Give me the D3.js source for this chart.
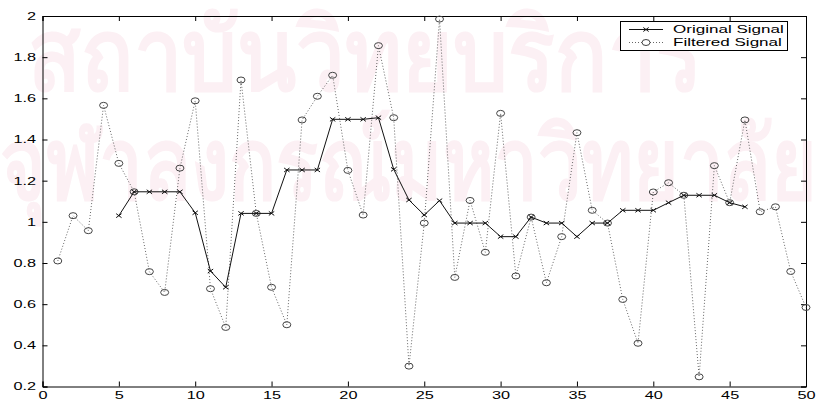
<!DOCTYPE html>
<html>
<head>
<meta charset="utf-8">
<script src="https://cdn.jsdelivr.net/npm/d3@7"></script>
<style>
  body { margin: 0; background: #fff; }
  svg { display: block; }
  text { font-family: "Liberation Sans", Arial, sans-serif; }
</style>
</head>
<body>
<svg id="chart" width="817" height="402"></svg>
<script>
// Sample index 1..50 for the filtered signal
const filteredX = d3.range(1, 51);
const filteredY = [
  0.81, 1.03, 0.957, 1.566, 1.284, 1.146, 0.758, 0.657, 1.261, 1.588,
  0.675, 0.487, 1.689, 1.041, 0.682, 0.50, 1.495, 1.61, 1.712, 1.25,
  1.033, 1.856, 1.506, 0.299, 0.994, 1.985, 0.73, 1.104, 0.852, 1.527,
  0.737, 1.023, 0.704, 0.928, 1.433, 1.056, 0.994, 0.623, 0.41, 1.145,
  1.19, 1.129, 0.247, 1.273, 1.093, 1.495, 1.049, 1.073, 0.759, 0.584
];
// Original signal covers indices 5..46
const originalX = d3.range(5, 47);
const originalY = [
  1.03, 1.146, 1.146, 1.146, 1.146, 1.044, 0.761, 0.682, 1.041, 1.041,
  1.041, 1.252, 1.252, 1.252, 1.498, 1.498, 1.498, 1.506, 1.255, 1.106,
  1.033, 1.103, 0.994, 0.994, 0.994, 0.928, 0.928, 1.023, 0.994, 0.994,
  0.928, 0.994, 0.994, 1.056, 1.056, 1.056, 1.093, 1.129, 1.129, 1.129,
  1.093, 1.073
];
const xTicks = [0, 5, 10, 15, 20, 25, 30, 35, 40, 45, 50];
const yTicks = [0.2, 0.4, 0.6, 0.8, 1, 1.2, 1.4, 1.6, 1.8, 2];
const seriesNames = ["Original Signal", "Filtered Signal"];
const watermarkLines = ["สถาบันวิทยบริการ", "จุฬาลงกรณ์มหาวิทยาลัย"];

const svg = d3.select("#chart");
const W = 817, H = 402;
const m = { left: 42.5, top: 16, right: 11, bottom: 15.5 };
const iw = W - m.left - m.right, ih = H - m.top - m.bottom;
const SX = 1.55;          // horizontal stretch applied to all labels
const FS = 10.5;          // label font size

// faint watermark behind everything
const wm = svg.append("g").attr("fill", "#fcf0f4").attr("font-weight", 700)
  .style("font-family", "'Noto Sans Thai', 'Noto Sans', sans-serif");
wm.append("text").attr("x", 28).attr("y", 90)
  .attr("font-size", 100).attr("textLength", 675).attr("lengthAdjust", "spacingAndGlyphs")
  .text(watermarkLines[0]);
wm.append("text").attr("x", 0).attr("y", 199)
  .attr("font-size", 100).attr("textLength", 817).attr("lengthAdjust", "spacingAndGlyphs")
  .text(watermarkLines[1]);

const x = d3.scaleLinear().domain([0, 50]).range([m.left, m.left + iw]);
const y = d3.scaleLinear().domain([0.2, 2]).range([m.top + ih, m.top]);

const g = svg.append("g");

// axes box with inward ticks on all four sides
const tickLen = 5;
const fmt = d => d3.format("")(+d.toFixed(1));
const axBottom = g.append("g").attr("transform", `translate(0,${m.top + ih})`)
  .call(d3.axisBottom(x).tickValues(xTicks).tickSize(-tickLen).tickFormat(d3.format("d")));
const axTop = g.append("g").attr("transform", `translate(0,${m.top})`)
  .call(d3.axisTop(x).tickValues(xTicks).tickSize(-tickLen).tickFormat(""));
const axLeft = g.append("g").attr("transform", `translate(${m.left},0)`)
  .call(d3.axisLeft(y).tickValues(yTicks).tickSize(-tickLen).tickFormat(fmt));
const axRight = g.append("g").attr("transform", `translate(${m.left + iw},0)`)
  .call(d3.axisRight(y).tickValues(yTicks).tickSize(-tickLen).tickFormat(""));
[axBottom, axTop, axLeft, axRight].forEach(a => {
  a.selectAll("path").attr("stroke", "#000").attr("stroke-width", 1);
  a.selectAll("line").attr("stroke", "#000");
  a.selectAll("text").attr("font-size", FS).attr("fill", "#000")
    .style("font-family", "'Liberation Sans', Arial, sans-serif");
});
axBottom.selectAll("text").attr("y", 12.5).attr("dy", 0)
  .attr("transform", `scale(${SX},1)`);
axLeft.selectAll("text").attr("x", -6.5 / SX)
  .attr("transform", `scale(${SX},1)`);

// filtered signal: dotted line with circle markers
const filtered = filteredX.map((d, i) => [d, filteredY[i]]);
const original = originalX.map((d, i) => [d, originalY[i]]);
const line = d3.line().x(d => x(d[0])).y(d => y(d[1]));

g.append("path").datum(filtered).attr("d", line)
  .attr("fill", "none").attr("stroke", "#666").attr("stroke-width", 1)
  .attr("stroke-dasharray", "1,2");
g.append("g").selectAll("ellipse").data(filtered).join("ellipse")
  .attr("cx", d => x(d[0])).attr("cy", d => y(d[1])).attr("rx", 4).attr("ry", 3)
  .attr("fill", "none").attr("stroke", "#444").attr("stroke-width", 1);

// original signal: solid line with x markers
g.append("path").datum(original).attr("d", line)
  .attr("fill", "none").attr("stroke", "#111").attr("stroke-width", 1);
const cross = (sel, sx, sy) => sel.attr("d", d => {
  const cx = x(d[0]), cy = y(d[1]);
  return `M${cx - sx},${cy - sy}L${cx + sx},${cy + sy}M${cx - sx},${cy + sy}L${cx + sx},${cy - sy}`;
});
g.append("g").selectAll("path").data(original).join("path")
  .call(cross, 2.7, 2).attr("stroke", "#111").attr("stroke-width", 1).attr("fill", "none");

// legend
const lg = svg.append("g").attr("transform", "translate(620,21)");
lg.append("rect").attr("x", 0.5).attr("y", 0.5).attr("width", 167).attr("height", 29)
  .attr("fill", "#fff").attr("stroke", "#000");
lg.append("line").attr("x1", 9).attr("x2", 43).attr("y1", 8.5).attr("y2", 8.5)
  .attr("stroke", "#111");
lg.append("path").attr("d", "M23.3,6.5L28.7,10.5M23.3,10.5L28.7,6.5")
  .attr("stroke", "#111").attr("fill", "none");
lg.append("line").attr("x1", 9).attr("x2", 43).attr("y1", 21.5).attr("y2", 21.5)
  .attr("stroke", "#666").attr("stroke-dasharray", "1,2");
lg.append("ellipse").attr("cx", 26).attr("cy", 21.5).attr("rx", 4).attr("ry", 3)
  .attr("fill", "#fff").attr("stroke", "#444");
lg.selectAll("text.lbl").data(seriesNames).join("text").attr("class", "lbl")
  .attr("x", 53 / SX).attr("y", (d, i) => 12.5 + i * 12.5)
  .attr("transform", `scale(${SX},1)`)
  .attr("font-size", 11).attr("fill", "#000").text(d => d);
</script>
</body>
</html>
